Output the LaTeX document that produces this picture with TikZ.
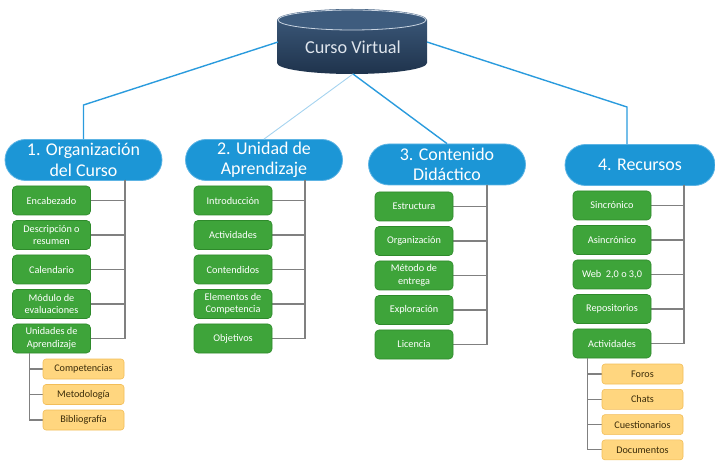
\documentclass[tikz,border=0pt]{standalone}
\usepackage{fontspec}
\setmainfont{Carlito}
\usepackage{tikz}
\usetikzlibrary{calc}
\definecolor{navytop}{HTML}{3E5C7E}
\definecolor{navybot}{HTML}{1F334C}
\definecolor{navyrim}{HTML}{C9D4E1}
\definecolor{headblue}{HTML}{1C96D6}
\definecolor{headrim}{HTML}{5DB4E4}
\definecolor{linkblue}{HTML}{2A9BDD}
\definecolor{linklight}{HTML}{A4D3EF}
\definecolor{itemgreen}{HTML}{3EA43A}
\definecolor{itemrim}{HTML}{2E8A2B}
\definecolor{subfill}{HTML}{FFD67F}
\definecolor{subrim}{HTML}{F2BD58}
\definecolor{subtext}{HTML}{3B2C0A}
\definecolor{tiegray}{HTML}{808080}
\tikzset{
  head/.style={draw=headrim, fill=headblue, line width=0.8pt, rounded corners=20.5bp,
    minimum width=157bp, minimum height=41bp, inner sep=0pt, align=center,
    text=white, font=\fontsize{18}{20.5}\selectfont},
  item/.style={draw=itemrim, fill=itemgreen, line width=0.6pt, rounded corners=4bp,
    minimum width=78bp, minimum height=29bp, inner sep=0pt, align=center,
    text=white, font=\fontsize{10.3}{12.5}\selectfont},
  sub/.style={draw=subrim, fill=subfill, line width=0.6pt, rounded corners=3bp,
    minimum width=81bp, minimum height=20bp, inner sep=0pt,
    text=subtext, font=\fontsize{10.2}{11}\selectfont},
  link/.style={draw=linkblue, line width=1.4pt},
  linkl/.style={draw=linklight, line width=0.9pt},
  tie/.style={draw=tiegray, line width=1.1pt},
}
\begin{document}
\begin{tikzpicture}[x=1bp,y=-1bp]
  \useasboundingbox (0,0) rectangle (715,462);

  % curso virtual
  \shade[top color=navytop, bottom color=navybot]
    (277,20) -- (277,63) arc[start angle=180, end angle=0, x radius=75, y radius=11]
    -- (427,20) arc[start angle=0, end angle=-180, x radius=75, y radius=11] -- cycle;
  \draw[navyrim, line width=0.8pt, fill=navytop] (352,20) ellipse[x radius=74, y radius=10];
  \node[text=navyrim!60!white, font=\fontsize{18.3}{21}\selectfont] (cv) at (353,47) {Curso Virtual};
  \coordinate (cvl) at (278,42);
  \coordinate (cvr) at (427,42);
  \coordinate (cvb) at (353,74);

  % areas
  \node[head] (h1) at (83.5,160) {1. Organización\\del Curso};
  \node[head] (h2) at (264,160) {2. Unidad de\\Aprendizaje};
  \node[head] (h3) at (447,164.5) {3. Contenido\\Didáctico};
  \node[head, minimum width=150bp] (h4) at (640,165) {4. Recursos};

  \coordinate (k1) at (83.5,105);
  \coordinate (k4) at (627,107);
  \draw[link] (cvl) -- (k1) -- (h1.north);
  \draw[link] (cvr) -- (k4) -- (k4 |- h4.north);
  \draw[linkl] (cvb) -- (h2.north);
  \draw[link] (cvb) -- (h3.north);

  \coordinate (t1) at (125,180);
  \coordinate (t2) at (305,180);
  \coordinate (t3) at (487,185);
  \coordinate (t4) at (684,185);

  \foreach \t [count=\i, evaluate=\i as \y using 166+34.5*\i] in
    {Encabezado, {Descripción o\\resumen}, Calendario, {Módulo de\\evaluaciones}, {Unidades de\\Aprendizaje}}{
    \draw[tie] (t1) |- (51.5,\y);
    \node[item] (a\i) at (51.5,\y) {\t};
  }
  \foreach \t [count=\i, evaluate=\i as \y using 166+34.5*\i] in
    {Introducción, Actividades, Contendidos, {Elementos de\\Competencia}, Objetivos}{
    \draw[tie] (t2) |- (233,\y);
    \node[item] (b\i) at (233,\y) {\t};
  }
  \foreach \t [count=\i, evaluate=\i as \y using 172+34.5*\i] in
    {Estructura, Organización, {Método de\\entrega}, Exploración, Licencia}{
    \draw[tie] (t3) |- (414,\y);
    \node[item] (c\i) at (414,\y) {\t};
  }
  \foreach \t [count=\i, evaluate=\i as \y using 171+34.5*\i] in
    {Sincrónico, Asincrónico, {Web\ \ 2,0 o 3,0}, Repositorios, Actividades}{
    \draw[tie] (t4) |- (612,\y);
    \node[item] (d\i) at (612,\y) {\t};
  }

  % subtemas
  \coordinate (u1) at ($(a5.south west)+(17,0)$);
  \foreach \t [count=\i, evaluate=\i as \y using 343.5+25.5*\i] in
    {Competencias, Metodología, Bibliografía}{
    \draw[tie] (u1) |- (83.5,\y);
    \node[sub] (s\i) at (83.5,\y) {\t};
  }
  \coordinate (u4) at ($(d5.south west)+(15,0)$);
  \foreach \t [count=\i, evaluate=\i as \y using 348.7+25.3*\i] in
    {Foros, Chats, Cuestionarios, Documentos}{
    \draw[tie] (u4) |- (642.5,\y);
    \node[sub] (r\i) at (642.5,\y) {\t};
  }
\end{tikzpicture}
\end{document}
